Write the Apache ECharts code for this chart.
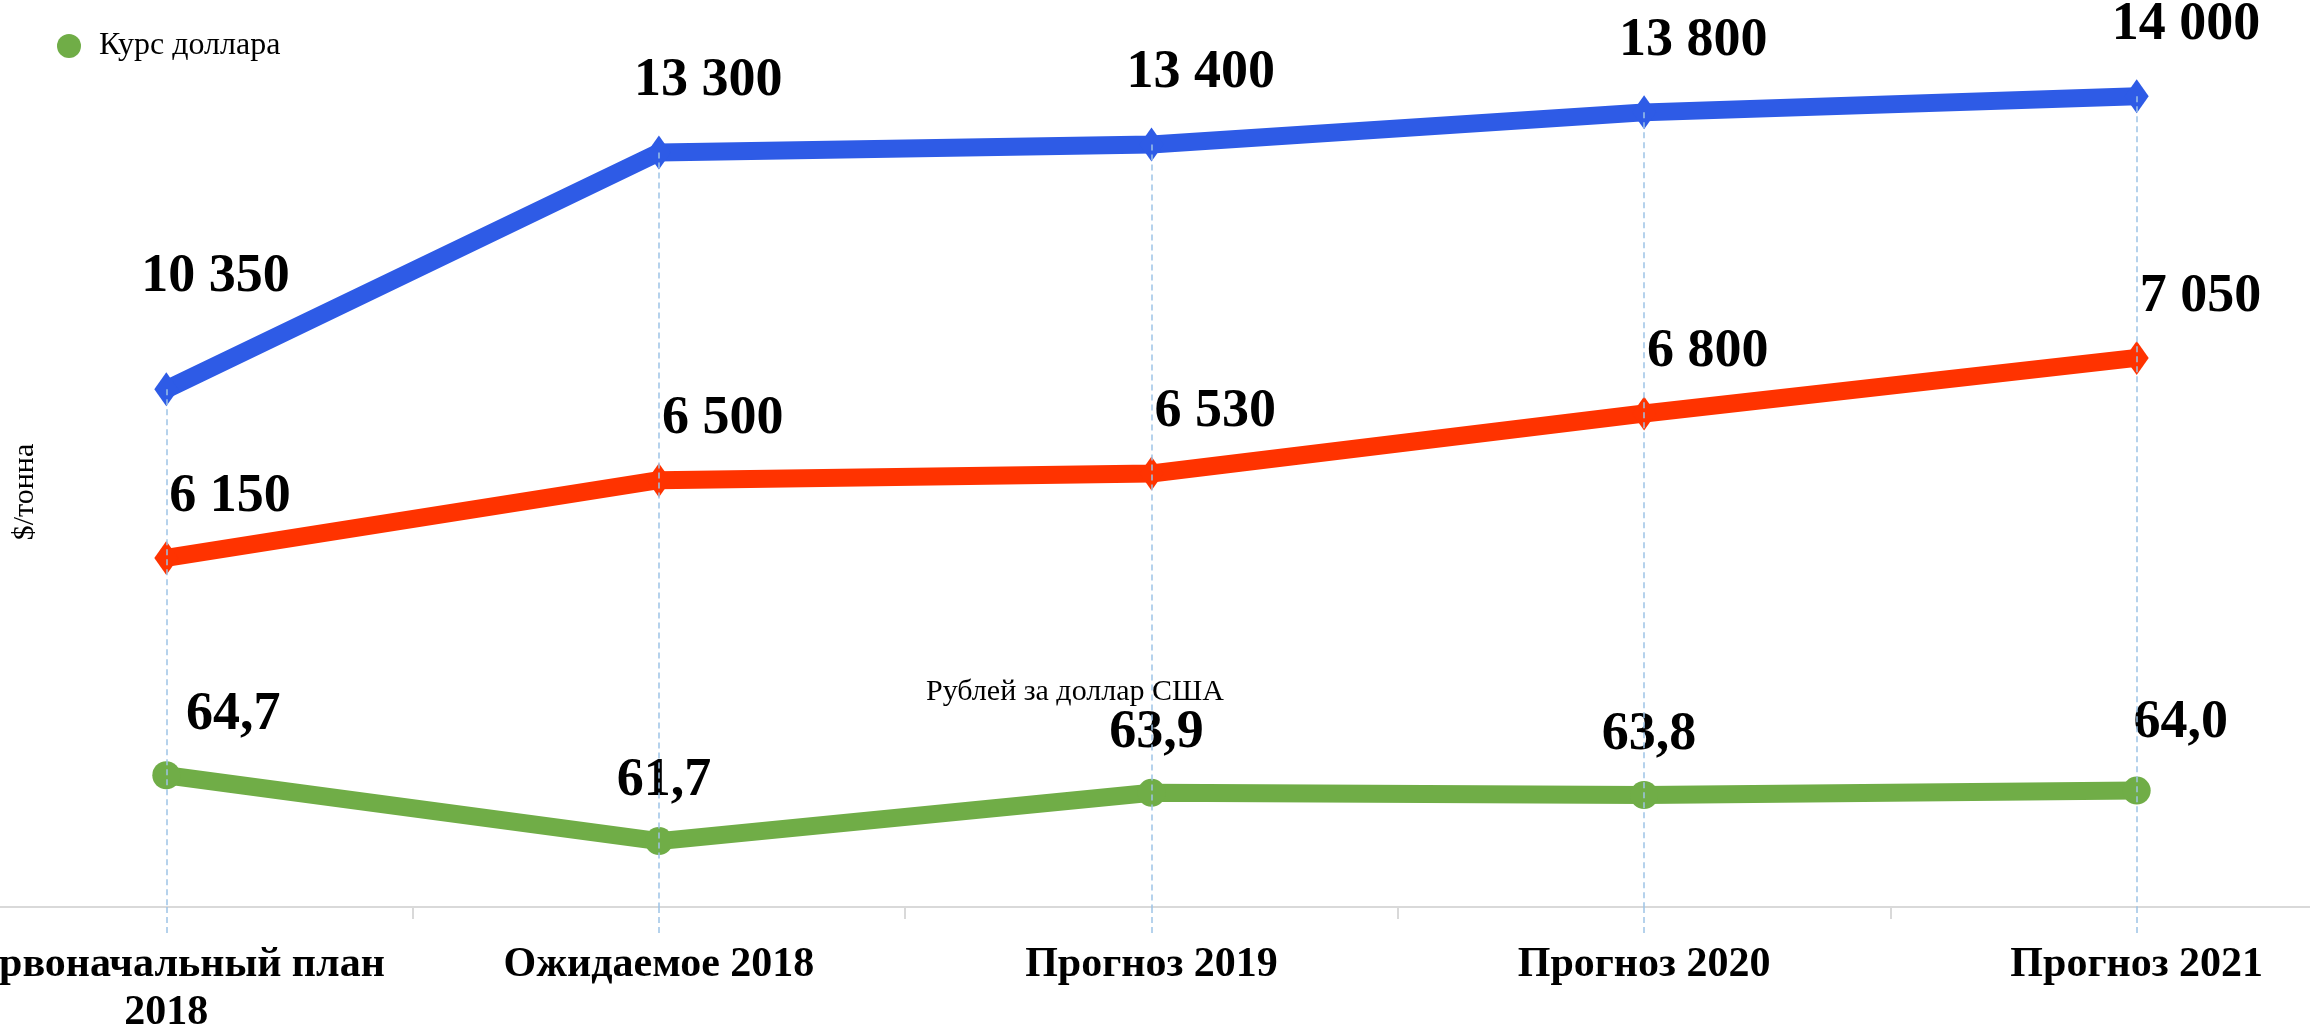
<!DOCTYPE html>
<html>
<head>
<meta charset="utf-8">
<title>Курс доллара и цены</title>
<script src="https://cdn.jsdelivr.net/npm/echarts@6/dist/echarts.min.js"></script>
<style>
  html, body { margin: 0; padding: 0; background: #fff; }
  #chart { width: 2310px; height: 1026px; }
</style>
</head>
<body>
<div id="chart"></div>
<script>
  // categories on the x axis
  const periods = ["Первоначальный план\n2018", "Ожидаемое 2018", "Прогноз 2019", "Прогноз 2020", "Прогноз 2021"];
  // $/тонна
  const nickel = [10350, 13300, 13400, 13800, 14000];
  const copper = [6150, 6500, 6530, 6800, 7050];
  // рублей за доллар США
  const usdRate = [64.7, 61.7, 63.9, 63.8, 64.0];

  const serif = '"Liberation Serif", "Times New Roman", serif';
  const nickelMin = 3900;

  function thousands(v) {
    return String(v).replace(/\B(?=(\d{3})+(?!\d))/g, " ");
  }
  function comma(v) {
    return v.toFixed(1).replace(".", ",");
  }

  const chart = echarts.init(document.getElementById("chart"));

  chart.setOption({
    animation: false,
    backgroundColor: "#fff",
    legend: {
      data: ["Курс доллара"],
      left: 52,
      top: 25,
      icon: "circle",
      itemWidth: 24,
      itemHeight: 24,
      textStyle: {
        fontFamily: serif,
        fontSize: 32,
        color: "#000",
        padding: [0, 0, 0, 13]
      }
    },
    grid: {
      left: -80,
      right: -73,
      top: 0,
      bottom: 119,
      containLabel: false,
      outerBoundsMode: "none"
    },
    xAxis: [
      {
        type: "category",
        data: periods,
        boundaryGap: true,
        axisLine: { lineStyle: { color: "#d9d9d9", width: 2 } },
        axisTick: { show: true, length: 12, lineStyle: { color: "#d9d9d9", width: 2 } },
        axisLabel: {
          interval: 0,
          margin: 34,
          fontFamily: serif,
          fontWeight: "bold",
          fontSize: 42,
          lineHeight: 48,
          color: "#000"
        }
      },
      {
        // continuation of the dashed drop lines below the axis
        type: "category",
        data: periods,
        position: "bottom",
        boundaryGap: true,
        axisLine: { show: false },
        axisLabel: { show: false },
        axisTick: {
          show: true,
          alignWithLabel: true,
          length: 29,
          lineStyle: { color: "#9dc3e6", width: 1.5, type: [6, 4] }
        }
      }
    ],
    yAxis: [
      { type: "value", show: false, min: nickelMin, max: 15200, splitLine: { show: false } },
      { type: "value", show: false, min: 4580, max: 8660, splitLine: { show: false } },
      { type: "value", show: false, min: 58.7, max: 100, splitLine: { show: false } }
    ],
    graphic: [
      {
        type: "text",
        x: 25,
        y: 492,
        rotation: Math.PI / 2,
        style: {
          text: "$/тонна",
          fontFamily: serif,
          fontSize: 30,
          fill: "#000",
          align: "center",
          verticalAlign: "middle"
        }
      },
      {
        type: "text",
        x: 1075,
        y: 692,
        style: {
          text: "Рублей за доллар США",
          fontFamily: serif,
          fontSize: 30,
          fill: "#000",
          align: "center",
          verticalAlign: "middle"
        }
      }
    ],
    series: [
      {
        name: "Никель, $/тонна",
        type: "line",
        yAxisIndex: 0,
        clip: false,
        z: 3,
        data: nickel.map((v, i) => i === 0 ? { value: v, label: { offset: [-25, -41] } } : v),
        lineStyle: { color: "#2e5be6", width: 18 },
        itemStyle: { color: "#2e5be6" },
        symbol: "diamond",
        symbolSize: [24, 34],
        label: {
          show: true,
          position: "top",
          align: "left",
          distance: 27,
          offset: [-25, 0],
          formatter: p => thousands(p.value),
          fontFamily: serif,
          fontWeight: "bold",
          fontSize: 54,
          color: "#000"
        },
        markLine: {
          silent: true,
          symbol: ["none", "none"],
          label: { show: false },
          lineStyle: { color: "#9dc3e6", width: 1.5, type: [6, 4] },
          data: nickel.map((v, i) => [{ coord: [i, v] }, { coord: [i, nickelMin] }])
        }
      },
      {
        name: "Медь, $/тонна",
        type: "line",
        yAxisIndex: 1,
        clip: false,
        z: 3,
        data: copper,
        lineStyle: { color: "#ff3300", width: 18 },
        itemStyle: { color: "#ff3300" },
        symbol: "diamond",
        symbolSize: [24, 34],
        label: {
          show: true,
          position: "top",
          align: "left",
          distance: 17,
          offset: [3, 0],
          formatter: p => thousands(p.value),
          fontFamily: serif,
          fontWeight: "bold",
          fontSize: 54,
          color: "#000"
        }
      },
      {
        name: "Курс доллара",
        type: "line",
        yAxisIndex: 2,
        clip: false,
        z: 3,
        data: usdRate.map((v, i) => {
          if (i === 0) return { value: v, label: { offset: [67, 0] } };
          if (i === usdRate.length - 1) return { value: v, label: { offset: [44, -8] } };
          return v;
        }),
        lineStyle: { color: "#70ad47", width: 18 },
        itemStyle: { color: "#70ad47" },
        symbol: "circle",
        symbolSize: 28,
        label: {
          show: true,
          position: "top",
          distance: 19,
          offset: [5, 0],
          formatter: p => comma(p.value),
          fontFamily: serif,
          fontWeight: "bold",
          fontSize: 54,
          color: "#000"
        }
      }
    ]
  });
</script>
</body>
</html>
